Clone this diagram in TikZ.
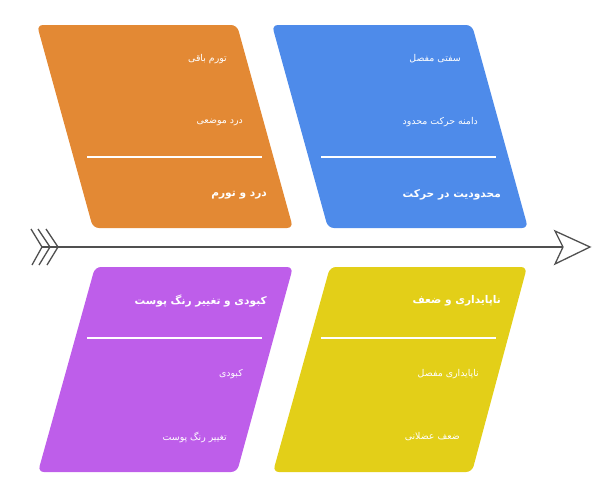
\documentclass[tikz,border=0pt]{standalone}
\usepackage{fontspec}
\TeXXeTstate=1
\newfontfamily\fa[Script=Arabic]{DejaVu Sans}
\definecolor{cOrange}{RGB}{227,137,52}
\definecolor{cBlue}{RGB}{78,139,234}
\definecolor{cPurple}{RGB}{190,94,234}
\definecolor{cYellow}{RGB}{227,207,24}
\definecolor{cLine}{RGB}{80,80,80}
\tikzset{
  box/.style={rounded corners=6pt, draw=none},
  divider/.style={draw=white, line width=1.3pt},
  sm/.style={text=white, inner sep=0pt, anchor=east, font=\fa\fontsize{9.4}{11}\selectfont},
  ttl/.style={text=white, inner sep=0pt, anchor=east, font=\fa\bfseries\fontsize{10.6}{12}\selectfont},
  spine/.style={draw=cLine, line width=1.8pt},
  chev/.style={draw=cLine, line width=1.3pt}
}
\begin{document}
\begin{tikzpicture}[x=1pt,y=-1pt]
\useasboundingbox (0,0) rectangle (593,482);
% boxes
\fill[box, cOrange] (37,25) -- (237,25) -- (293,228) -- (93,228) -- cycle;
\fill[box, cBlue] (272,25) -- (472,25) -- (528,228) -- (328,228) -- cycle;
\fill[box, cPurple] (95,267) -- (293,267) -- (237,472) -- (38,472) -- cycle;
\fill[box, cYellow] (330,267) -- (527,267) -- (472,472) -- (273,472) -- cycle;
% dividers
\draw[divider] (87,157) -- (262,157);
\draw[divider] (321,157) -- (496,157);
\draw[divider] (87,338) -- (262,338);
\draw[divider] (321,338) -- (496,338);
% orange texts
\node[sm] (o1) at (227,59) {\beginR تورم باقی\endR};
\node[sm] (o2) at (243,122) {\beginR درد موضعی\endR};
\node[ttl] (o3) at (267,195) {\beginR درد و تورم\endR};
% blue texts
\node[sm] (b1) at (461,59) {\beginR سفتی مفصل\endR};
\node[sm] (b2) at (478,122) {\beginR دامنه حرکت محدود\endR};
\node[ttl] (b3) at (501,195) {\beginR محدودیت در حرکت\endR};
% purple texts
\node[ttl] (p3) at (267,301) {\beginR کبودی و تغییر رنگ پوست\endR};
\node[sm] (p1) at (243,374) {\beginR کبودی\endR};
\node[sm] (p2) at (227,437) {\beginR تغییر رنگ پوست\endR};
% yellow texts
\node[ttl] (y3) at (501,301) {\beginR ناپایداری و ضعف\endR};
\node[sm] (y1) at (479,374) {\beginR ناپایداری مفصل\endR};
\node[sm] (y2) at (460,437) {\beginR ضعف عضلانی\endR};
% spine
\coordinate (tail) at (42,247);
\coordinate (notch) at (563,247);
\draw[spine] (tail) -- (notch);
\draw[chev] (31,229) -- (42,247) -- (32,265);
\draw[chev] (38,229) -- (50,247) -- (39,265);
\draw[chev] (46,229) -- (58,247) -- (47,265);
\draw[chev, fill=white, line join=miter] (555,231) -- (590,247) -- (555,264) -- (notch) -- cycle;
\end{tikzpicture}
\end{document}
